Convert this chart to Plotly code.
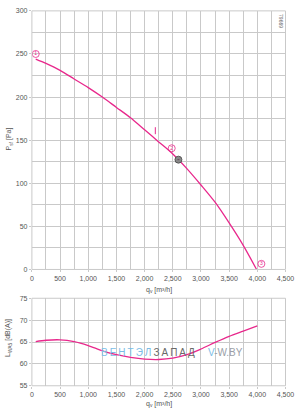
import plotly.graph_objects as go

# Pressure curve
q_p = [68, 250, 500, 750, 1000, 1250, 1500, 1750, 2000, 2250, 2500, 2750, 3000, 3250, 3500, 3750, 3987]
p_sf = [244, 239, 231, 221, 211, 200, 188, 176, 162, 148, 134, 117, 98, 78, 54, 28, 0]

# Sound power curve
q_l = [68, 250, 500, 750, 1000, 1250, 1500, 1750, 2000, 2250, 2500, 2750, 3000, 3250, 3500, 3750, 4000]
l_wa = [65.1, 65.4, 65.5, 65.1, 64.2, 63.0, 62.1, 61.5, 61.1, 61.0, 61.3, 62.1, 63.4, 64.9, 66.3, 67.5, 68.7]

# Numbered markers
mark_q = [68, 2481, 4072]
mark_p = [250, 140.6, 6.5]
mark_lbl = ["1", "2", "3"]

# Operating point
op_q = [2600]
op_p = [127.4]

# small tick
tick_q = [2190]
tick_p = [161]

PINK = "#e8288c"
GRID = "#c9c9c9"
TXT = "#555555"

fig = go.Figure()
fig.add_trace(go.Scatter(x=q_p, y=p_sf, mode="lines", line=dict(color=PINK, width=1.3, shape="spline", smoothing=0.8),
                         xaxis="x", yaxis="y", showlegend=False))
fig.add_trace(go.Scatter(x=mark_q, y=mark_p, mode="markers+text", text=mark_lbl,
                         textfont=dict(size=5, color=PINK), textposition="middle center",
                         marker=dict(symbol="circle-open", size=7, color=PINK, line=dict(width=0.8)),
                         xaxis="x", yaxis="y", showlegend=False))
fig.add_trace(go.Scatter(x=op_q, y=op_p, mode="markers",
                         marker=dict(symbol="circle-dot", size=7, color="#888888", line=dict(color="#444", width=0.8)),
                         xaxis="x", yaxis="y", showlegend=False))
fig.add_trace(go.Scatter(x=tick_q, y=tick_p, mode="markers",
                         marker=dict(symbol="line-ns", size=5, color=PINK, line=dict(color=PINK, width=1)),
                         xaxis="x", yaxis="y", showlegend=False))
fig.add_trace(go.Scatter(x=q_l, y=l_wa, mode="lines", line=dict(color=PINK, width=1.3, shape="spline", smoothing=0.8),
                         xaxis="x2", yaxis="y2", showlegend=False))

H = 416.0
W = 308.0
xdom = [31 / W, 294 / W]
ax_common = dict(showline=False, zeroline=False, gridcolor=GRID, gridwidth=1,
                 tickfont=dict(size=7, color=TXT, family="Liberation Sans"),
                 ticks="outside", ticklen=2, tickcolor=GRID, fixedrange=True)

fig.update_layout(
    width=308, height=416,
    margin=dict(l=0, r=0, t=0, b=0),
    paper_bgcolor="white", plot_bgcolor="white",
    xaxis=dict(domain=xdom, range=[0, 4500], dtick=500, tickformat=",d", anchor="y",
               minor=dict(dtick=250, showgrid=True, gridcolor=GRID), **ax_common),
    yaxis=dict(domain=[(H - 270) / H, (H - 7) / H], range=[0, 300], dtick=50, anchor="x",
               minor=dict(dtick=25, showgrid=True, gridcolor=GRID), **ax_common),
    xaxis2=dict(domain=xdom, range=[0, 4500], dtick=500, tickformat=",d", anchor="y2",
                minor=dict(dtick=250, showgrid=True, gridcolor=GRID), **ax_common),
    yaxis2=dict(domain=[(H - 388.3) / H, (H - 299.3) / H], range=[55, 75], dtick=5, anchor="x2",
                **ax_common),
    font=dict(family="Liberation Sans", color=TXT),
)

fig.update_layout(shapes=[
    dict(type="rect", xref="x domain", yref="y domain", x0=0, x1=1, y0=0, y1=1,
         line=dict(color=GRID, width=1)),
    dict(type="rect", xref="x2 domain", yref="y2 domain", x0=0, x1=1, y0=0, y1=1,
         line=dict(color=GRID, width=1)),
])

ts = "\u2009"
wm1 = ts.join("ВЕНТЭЛ")
wm2 = ts.join("ЗАПАД")
ann = [
    dict(text="q<sub>v</sub> [m³/h]", xref="paper", yref="paper", x=163 / W, y=(H - 291) / H,
         showarrow=False, font=dict(size=7, color=TXT), xanchor="center", yanchor="middle"),
    dict(text="q<sub>v</sub> [m³/h]", xref="paper", yref="paper", x=163 / W, y=(H - 407) / H,
         showarrow=False, font=dict(size=7, color=TXT), xanchor="center", yanchor="middle"),
    dict(text="P<sub>sf</sub> [Pa]", xref="paper", yref="paper", x=7 / W, y=(H - 137) / H,
         showarrow=False, textangle=-90, font=dict(size=7, color=TXT), xanchor="center", yanchor="middle"),
    dict(text="L<sub>WA5</sub> [dB(A)]", xref="paper", yref="paper", x=7 / W, y=(H - 340) / H,
         showarrow=False, textangle=-90, font=dict(size=7, color=TXT), xanchor="center", yanchor="middle"),
    dict(text="79669", xref="paper", yref="paper", x=290 / W, y=(H - 17) / H,
         showarrow=False, textangle=90, font=dict(size=5, color="#666"), xanchor="center", yanchor="middle"),
    dict(text=f"<span style='color:#7cbde6'>{wm1}{ts}</span><span style='color:#6a6a6a'>{wm2}</span>",
         xref="paper", yref="paper", x=101 / W, y=(H - 354) / H, showarrow=False,
         font=dict(size=10, family="Liberation Sans"), xanchor="left", yanchor="middle"),
    dict(text="<span style='color:#7cbde6'>V</span><span style='color:#9aa0a8'>-W.BY</span>",
         xref="paper", yref="paper", x=212 / W, y=(H - 354) / H, showarrow=False,
         font=dict(size=10, family="Liberation Sans"), xanchor="left", yanchor="middle"),
]
fig.update_layout(annotations=ann)

fig.write_html("out.html")
